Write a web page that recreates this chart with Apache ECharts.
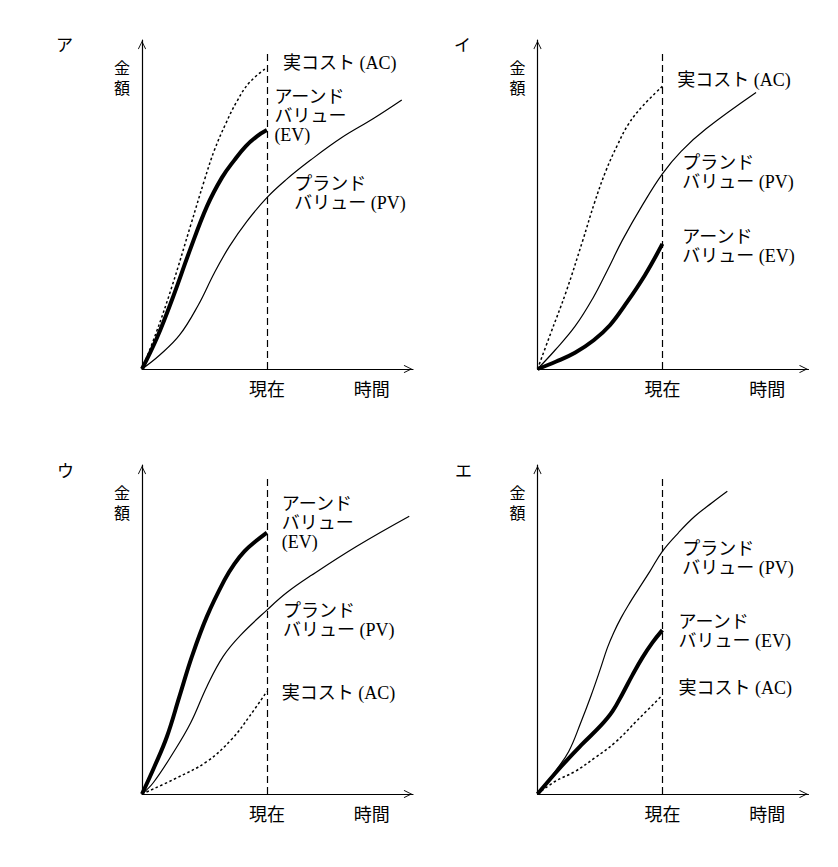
<!DOCTYPE html>
<html lang="ja">
<head>
    <meta charset="UTF-8">
    <title>EVM</title>
    <script src="https://cdn.jsdelivr.net/npm/echarts@6.0.0/dist/echarts.min.js"></script>
    <style type="text/css">
        *{margin: 0;padding: 0;border: none}
        html,body{width: 100%;height: 100%;overflow: hidden;background: #fff}
        #main{width: 838px;height: 867px}
    </style>
</head>
<body>
<div id="main"></div>
<script type="text/javascript">
    // 値は [時間, 金額]、現在 = 100
    var panelNames = ['ア', 'イ', 'ウ', 'エ'];
    var nowX = 100;
    var nowTop = 255;
    var xTicks = [100, 184];
    var xTickNames = ['現在', '時間'];
    var yName = '金額';

    var pvA = [[0,0],[14,11],[30,27],[45,51],[58,77],[70,98],[84,118],[100,137],[115,151],[135,167],[160,185],[185,200],[208,215]];
    var evA = [[0,0],[12,25],[25,58],[38,94],[52,130],[64,153],[74,167],[83,178],[92,186],[100,191]];
    var acA = [[0,0],[11,28],[24,66],[39,115],[50,151],[58,175],[67,196],[76,214],[86,229],[100,241]];

    var pvI = [[0,0],[14,15],[30,34],[44,56],[56,79],[68,103],[84,131],[100,156],[115,174],[135,192],[175,221]];
    var evI = [[0,0],[15,6],[30,13],[45,23],[58,35],[70,51],[86,75],[100,100]];
    var acI = [[0,0],[10,27],[23,62],[36,102],[46,134],[55,159],[64,179],[73,196],[84,210],[100,226]];

    var pvU = [[0,0],[9,9],[25,33],[39,57],[52,86],[65,110],[79,127],[100,147],[116,161],[136,175],[172,198],[214,222]];
    var evU = [[0,0],[10,22],[20,46],[30,78],[40,110],[52,142],[66,171],[74,184],[82,194],[91,202],[100,209]];
    var acU = [[0,0],[26,12],[52,26],[72,44],[86,62],[100,82]];

    var pvE = [[0,0],[14,18],[25,34],[35,58],[43,79],[50,99],[56,117],[61,129],[67,141],[74,153],[81,164],[90,178],[100,194],[113,209],[126,222],[140,233],[152,242]];
    var evE = [[0,0],[19,22],[36,40],[51,55],[60,66],[68,80],[76,95],[84,109],[92,121],[100,131]];
    var acE = [[0,0],[14,10],[30,18],[46,29],[62,41],[80,59],[100,79]];

    var pvText = 'プランド\nバリュー (PV)';
    var acText = '実コスト (AC)';

    var font = '"Liberation Serif", "Noto Sans CJK JP", serif';
    var chevron = 'path://M5,0 L10,10 L9.1,10.6 L5,2.3 L0.9,10.6 L0,10 Z';

    var panels = [
        {data: [pvA, evA, acA], left: 142, top: 40, tl: [56, 37], ev: 'アーンド\nバリュー\n(EV)',
         pos: {pv: [122, 140], ev: [106, 202], ac: [113, 245]}},
        {data: [pvI, evI, acI], left: 537.5, top: 40, tl: [454, 37], ev: 'アーンド\nバリュー (EV)',
         pos: {pv: [116, 157], ev: [116, 98], ac: [112, 231]}},
        {data: [pvU, evU, acU], left: 142, top: 465, tl: [57, 463], ev: 'アーンド\nバリュー\n(EV)',
         pos: {pv: [113, 139], ev: [112, 217], ac: [112, 81]}},
        {data: [pvE, evE, acE], left: 537.5, top: 465, tl: [455, 463], ev: 'アーンド\nバリュー (EV)',
         pos: {pv: [116, 188], ev: [113, 130], ac: [113, 85]}}
    ];

    var textStyle = {color: '#000', fontSize: 18, lineHeight: 19, fontFamily: font};
    var axisLine = {
        show: true,
        symbol: ['none', chevron],
        symbolSize: [8, 10],
        symbolOffset: [0, -5],
        lineStyle: {color: '#000', width: 1.2}
    };

    function tag(coord, text) {
        return {
            symbolSize: 0,
            data: [{coord: coord}],
            label: Object.assign({show: true, position: 'right', distance: 0, formatter: text}, textStyle)
        };
    }

    var grid = [], xAxis = [], yAxis = [], series = [], title = [];
    panels.forEach(function (p, i) {
        grid.push({left: p.left, top: p.top, width: 271, height: 329});
        title.push({text: panelNames[i], left: p.tl[0], top: p.tl[1], padding: 0,
            textStyle: {color: '#000', fontSize: 17, fontWeight: 'normal', fontFamily: font}});
        xAxis.push({
            type: 'value', gridIndex: i, min: 0, max: 217,
            axisLine: axisLine, axisTick: {show: false}, splitLine: {show: false},
            axisLabel: {
                customValues: xTicks, margin: 12, color: '#000', fontSize: 18, fontFamily: font,
                formatter: function (v) { return xTickNames[xTicks.indexOf(v)]; }
            }
        });
        yAxis.push({
            type: 'value', gridIndex: i, min: 0, max: 263,
            axisLine: axisLine, axisTick: {show: false}, splitLine: {show: false},
            axisLabel: {
                customValues: [232], margin: 12, color: '#000', fontSize: 16, lineHeight: 20, fontFamily: font,
                formatter: function () { return yName.split('').join('\n'); }
            }
        });
        series.push({
            name: 'PV', type: 'line', xAxisIndex: i, yAxisIndex: i, data: p.data[0],
            smooth: 0.4, showSymbol: false, lineStyle: {color: '#000', width: 1.2},
            markPoint: tag(p.pos.pv, pvText),
            markLine: {
                silent: true, symbol: 'none', label: {show: false},
                lineStyle: {color: '#000', width: 1.2, type: [7, 4]},
                data: [[{coord: [nowX, 0]}, {coord: [nowX, nowTop]}]]
            }
        });
        series.push({
            name: 'EV', type: 'line', xAxisIndex: i, yAxisIndex: i, data: p.data[1],
            smooth: 0.4, showSymbol: false, lineStyle: {color: '#000', width: 4},
            markPoint: tag(p.pos.ev, p.ev)
        });
        series.push({
            name: 'AC', type: 'line', xAxisIndex: i, yAxisIndex: i, data: p.data[2],
            smooth: 0.4, showSymbol: false, lineStyle: {color: '#000', width: 1.5, type: [2.5, 2.5]},
            markPoint: tag(p.pos.ac, acText)
        });
    });

    var myChart = echarts.init(document.getElementById('main'), null, {renderer: 'svg'});
    myChart.setOption({
        animation: false,
        backgroundColor: '#fff',
        title: title,
        grid: grid,
        xAxis: xAxis,
        yAxis: yAxis,
        series: series
    });
</script>
</body>
</html>
